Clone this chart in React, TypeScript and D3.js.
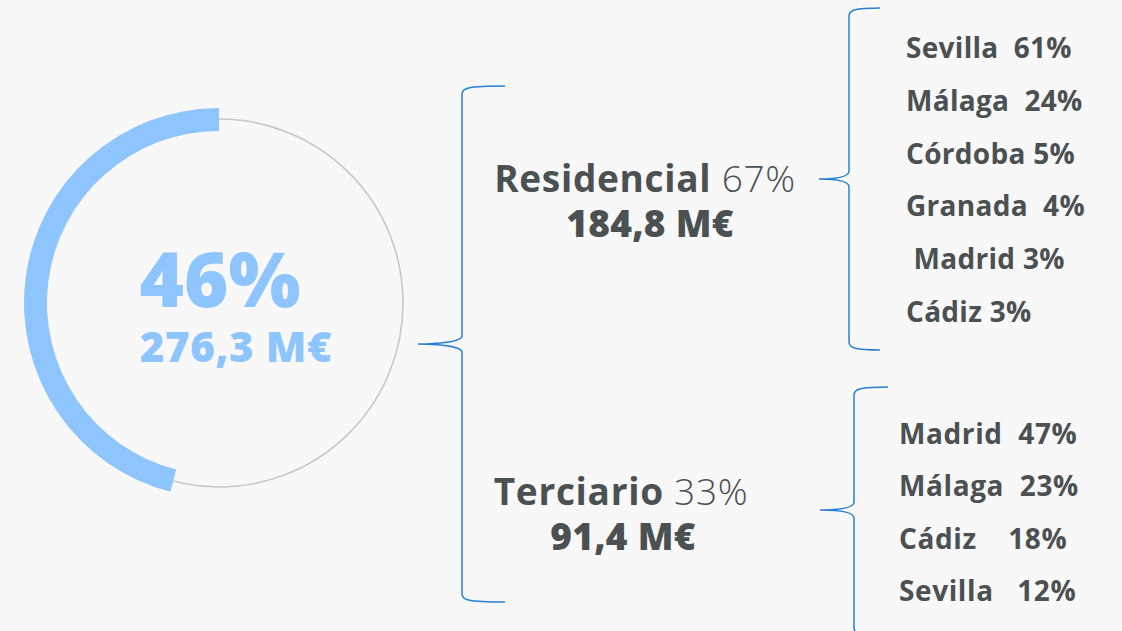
import React from "react";
import * as d3 from "d3";

const totalPct = [46];
const totalValue = ["276,3 M€"];
const segments = ["Residencial", "Terciario"];
const segmentPct = [67, 33];
const segmentValue = ["184,8 M€", "91,4 M€"];
const resCities = ["Sevilla", "Málaga", "Córdoba", "Granada", " Madrid", "Cádiz"];
const resPct = [61, 24, 5, 4, 3, 3];
const resGap = ["  ", "  ", " ", "  ", " ", " "];
const terCities = ["Madrid", "Málaga", "Cádiz", "Sevilla"];
const terPct = [47, 23, 18, 12];
const terGap = ["  ", "  ", "    ", "   "];

const W = 1122;
const H = 631;
const FONT = "'Open Sans', 'DejaVu Sans', sans-serif";
const DARK = "#4b5052";
const BLUE = "#8fc5ff";
const BRACE = "#2a7fd3";

function brace(x: number, yTop: number, yMid: number, yBot: number, tipX: number, endX: number) {
  const p = d3.path();
  p.moveTo(endX, yTop);
  p.bezierCurveTo(x + 6, yTop, x, yTop + 2, x, yTop + 8);
  p.lineTo(x, yMid - 8);
  p.bezierCurveTo(x, yMid - 2, tipX + 18, yMid, tipX, yMid);
  p.moveTo(tipX, yMid);
  p.bezierCurveTo(tipX + 18, yMid, x, yMid + 2, x, yMid + 8);
  p.lineTo(x, yBot - 8);
  p.bezierCurveTo(x, yBot - 2, x + 6, yBot, endX, yBot);
  return p.toString();
}

export default function App() {
  const cx = 219;
  const cy = 303;
  const frac = totalPct[0] / 100;
  const arc = d3.arc()({
    innerRadius: 172,
    outerRadius: 195,
    startAngle: 0,
    endAngle: -2 * Math.PI * frac,
  } as any) as string;

  const resY = d3.scaleLinear().domain([0, resCities.length - 1]).range([58, 322]);
  const terY = d3.scaleLinear().domain([0, terCities.length - 1]).range([444, 601]);

  return (
    <svg
      width={W}
      height={H}
      style={{ position: "fixed", left: 0, top: 0, background: "#f8f8f8" }}
      fontFamily={FONT}
    >
      <rect width={W} height={H} fill="#f8f8f8" />
      <circle cx={cx} cy={cy} r={184} fill="none" stroke="#c8c8c8" strokeWidth={1.6} />
      <path d={arc} transform={`translate(${cx},${cy})`} fill={BLUE} />
      <text x={220} y={307} textAnchor="middle" fill={BLUE} fontSize={76} fontWeight={800}>
        {totalPct[0]}%
      </text>
      <text x={236} y={362} textAnchor="middle" fill={BLUE} fontSize={42} fontWeight={800} letterSpacing={0.6}>
        {totalValue[0]}
      </text>

      <path d={brace(462, 86, 344, 602, 418, 505)} fill="none" stroke={BRACE} strokeWidth={1.5} />
      <path d={brace(849, 8, 179, 350, 819, 880)} fill="none" stroke={BRACE} strokeWidth={1.5} />
      <path d={brace(854, 387, 510, 636, 820, 888)} fill="none" stroke={BRACE} strokeWidth={1.5} />

      {segments.map((s, i) => (
        <g key={s}>
          <text
            x={i === 0 ? 645 : 621}
            y={i === 0 ? 192 : 505}
            textAnchor="middle"
            fill={DARK}
            fontSize={37}
            letterSpacing={0.7}
          >
            <tspan fontWeight={700}>{s}</tspan>
            <tspan fontWeight={300}> {segmentPct[i]}%</tspan>
          </text>
          <text
            x={i === 0 ? 650 : 623}
            y={i === 0 ? 237 : 550}
            textAnchor="middle"
            fill={DARK}
            fontSize={37}
            fontWeight={800}
            letterSpacing={0.3}
          >
            {segmentValue[i]}
          </text>
        </g>
      ))}

      {resCities.map((c, i) => (
        <text
          key={"r" + i}
          x={906}
          y={resY(i)}
          fill={DARK}
          fontSize={28}
          fontWeight={700}
          letterSpacing={0.3}
          style={{ whiteSpace: "pre" }}
        >
          {c + resGap[i] + resPct[i] + "%"}
        </text>
      ))}
      {terCities.map((c, i) => (
        <text
          key={"t" + i}
          x={899}
          y={terY(i)}
          fill={DARK}
          fontSize={28}
          fontWeight={700}
          letterSpacing={0.6}
          style={{ whiteSpace: "pre" }}
        >
          {c + terGap[i] + terPct[i] + "%"}
        </text>
      ))}
    </svg>
  );
}
